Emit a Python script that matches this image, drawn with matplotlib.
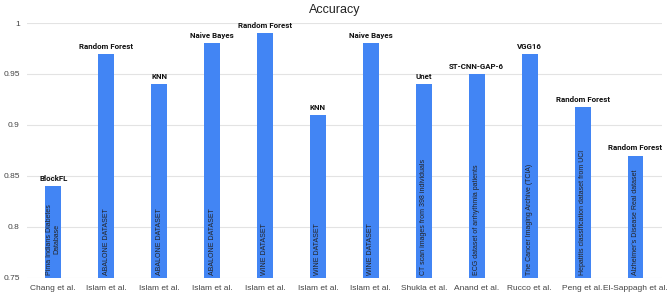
import matplotlib

matplotlib.use("Agg")
import matplotlib.pyplot as plt

authors = ["Chang et al.", "Islam et al.", "Islam et al.", "Islam et al.", "Islam et al.",
           "Islam et al.", "Islam et al.", "Shukla et al.", "Anand et al.", "Rucco et al.",
           "Peng et al.", "El-Sappagh et al."]
accuracy = [0.84, 0.97, 0.94, 0.98, 0.99, 0.91, 0.98, 0.94, 0.95, 0.97, 0.918, 0.87]
methods = ["BlockFL", "Random Forest", "KNN", "Naive Bayes", "Random Forest", "KNN",
           "Naive Bayes", "Unet", "ST-CNN-GAP-6", "VGG16", "Random Forest", "Random Forest"]
datasets = ["Pima Indians Diabetes\nDatabase", "ABALONE DATASET", "ABALONE DATASET",
            "ABALONE DATASET", "WINE DATASET", "WINE DATASET", "WINE DATASET",
            "CT scan images from 398 individuals", "ECG dataset of arrhythmia patients",
            "The Cancer Imaging Archive (TCIA)", "Hepatitis classification dataset from UCI",
            "Alzheimer's Disease Real dataset"]
yticks = [0.75, 0.8, 0.85, 0.9, 0.95, 1]
ytick_labels = ["0.75", "0.8", "0.85", "0.9", "0.95", "1"]


def main():
    plt.rcParams["font.family"] = ["Liberation Sans", "DejaVu Sans"]
    fig = plt.figure(figsize=(6.7, 2.95), dpi=100)
    ax = fig.add_axes([0.040, 0.058, 0.948, 0.864])
    x = range(len(authors))
    ax.bar(x, accuracy, width=0.3, color="#4285F4", zorder=2)
    ax.set_ylim(0.75, 1.0)
    ax.set_xlim(-0.5, len(authors) - 0.5)
    ax.set_yticks(yticks)
    ax.set_yticklabels(ytick_labels)
    ax.set_xticks(list(x))
    ax.set_xticklabels(authors)
    ax.tick_params(axis="both", length=0, labelsize=6.0, colors="#444444", pad=5)
    ax.grid(axis="y", color="#e3e3e3", linewidth=0.8, zorder=0)
    for s in ax.spines.values():
        s.set_visible(False)

    for i, (v, m, d) in enumerate(zip(accuracy, methods, datasets)):
        ax.text(i, v + 0.004, m, ha="center", va="bottom", fontsize=5.7,
                fontweight="bold", color="#111111", family=["Roboto", "DejaVu Sans"])
        ax.text(i, 0.753, d, ha="center", va="bottom", rotation=90,
                fontsize=5.0, color="#222222", linespacing=1.15, zorder=3)

    fig.text(0.5, 0.965, "Accuracy", ha="center", va="center", fontsize=9,
             color="#222222")
    fig.savefig("out.png", dpi=100)


if __name__ == "__main__":
    main()
